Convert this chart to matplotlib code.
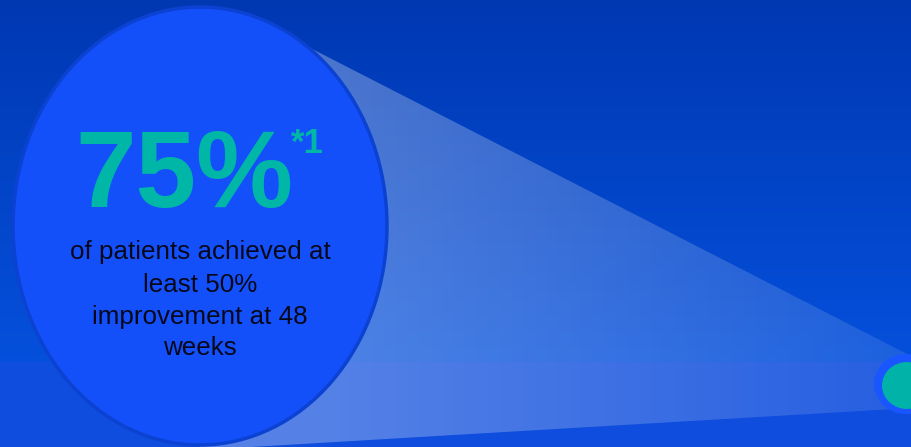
import matplotlib.pyplot as plt
import numpy as np
from matplotlib.patches import Ellipse, Polygon

# headline figure
value = 75
value_label = f"{value}%"
footnote = "*1"
caption_lines = ["of patients achieved at", "least 50%", "improvement at 48", "weeks"]

W, H = 911, 447
bg_top = np.array([0, 56, 178]) / 255
bg_mid = np.array([5, 80, 220]) / 255
bg_band = np.array([14, 77, 221]) / 255
circle_fill = "#1450fa"
circle_edge = "#0b42d2"
teal = "#00b6a7"
ring_blue = "#1a56ff"

fig = plt.figure(figsize=(W / 100, H / 100), dpi=100)
ax = fig.add_axes([0, 0, 1, 1])
ax.set_xlim(0, W)
ax.set_ylim(H, 0)
ax.axis("off")

# background: vertical gradient, lighter flat band at the bottom
yy = np.arange(H)[:, None]
t = np.clip(yy / 362, 0, 1)
bg = bg_top + (bg_mid - bg_top) * t
bg = np.where(yy >= 362, bg_band, bg)
bg = np.repeat(bg[:, None, :], W, axis=1).reshape(H, W, 3)
ax.imshow(bg, extent=(0, W, H, 0), aspect="auto", zorder=0)

# light cone from the big circle to the small dot (left end hidden behind circle)
cone = Polygon([(200, 226), (290, 37.6), (W, 356), (W, 408), (200, 450)], closed=True,
               facecolor="none", edgecolor="none")
ax.add_patch(cone)
xx = np.arange(W)[None, :]
alpha = np.clip(0.30 - 0.20 * (xx - 320) / 591, 0.1, 0.3)
alpha = np.repeat(alpha, H, axis=0)
overlay = np.zeros((H, W, 4))
overlay[..., :3] = 1.0
overlay[..., 3] = alpha
im = ax.imshow(overlay, extent=(0, W, H, 0), aspect="auto", zorder=1)
im.set_clip_path(cone)

# big circle
ax.add_patch(Ellipse((200, 226), 374, 438, facecolor=circle_fill,
                     edgecolor=circle_edge, linewidth=2.5, zorder=2))

# small dot on the right
ax.add_patch(Ellipse((906, 384), 64, 60, facecolor=ring_blue, edgecolor="none", zorder=2))
ax.add_patch(Ellipse((907, 385.5), 50, 47, facecolor="#00b2a8", edgecolor="none", zorder=3))

# texts
ax.text(184, 207, value_label, color=teal, fontsize=78.5, fontweight="bold",
        family="Liberation Sans", ha="center", va="baseline", zorder=4)
ax.text(291, 153, footnote, color=teal, fontsize=25, fontweight="bold",
        family="Liberation Sans", ha="left", va="baseline", zorder=4)
baselines = [259, 292, 324, 355]
for line, yb in zip(caption_lines, baselines):
    ax.text(200, yb, line, color="#06081a", fontsize=18.7,
            family="Liberation Sans", ha="center", va="baseline", zorder=4)

fig.savefig("out.png", dpi=100)
